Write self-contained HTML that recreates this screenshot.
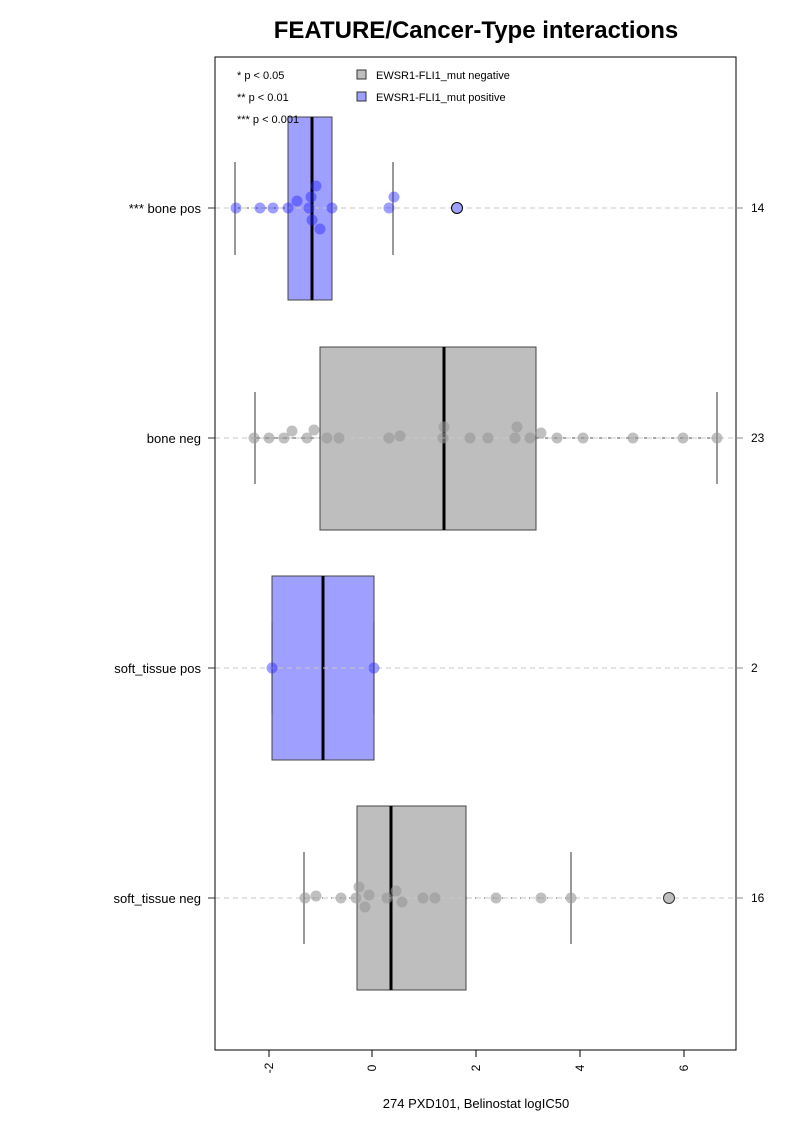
<!DOCTYPE html>
<html><head><meta charset="utf-8"><style>body{margin:0;background:#fff}svg{display:block}text{font-family:"Liberation Sans",sans-serif}</style></head><body>
<svg width="793" height="1122" viewBox="0 0 793 1122" xmlns="http://www.w3.org/2000/svg">
<rect width="793" height="1122" fill="#fff"/>
<text x="476" y="38" font-size="24" font-weight="bold" text-anchor="middle">FEATURE/Cancer-Type interactions</text>
<g stroke="#444" stroke-width="1">
<rect x="288" y="117" width="44" height="183" fill="#9f9fff"/>
<rect x="320" y="347" width="216" height="183" fill="#bebebe"/>
<rect x="272" y="576" width="102" height="184" fill="#9f9fff"/>
<rect x="357" y="806" width="109" height="184" fill="#bebebe"/>
</g>
<g stroke="#000" stroke-width="3">
<line x1="312" y1="117" x2="312" y2="300"/>
<line x1="444" y1="347" x2="444" y2="530"/>
<line x1="323" y1="576" x2="323" y2="760"/>
<line x1="391" y1="806" x2="391" y2="990"/>
</g>
<g stroke="#333" stroke-width="1">
<line x1="235" y1="162" x2="235" y2="255"/><line x1="393" y1="162" x2="393" y2="255"/>
<line x1="255" y1="392" x2="255" y2="484"/><line x1="717" y1="392" x2="717" y2="484"/>
<line x1="272" y1="622" x2="272" y2="714"/><line x1="374" y1="622" x2="374" y2="714"/>
<line x1="304" y1="852" x2="304" y2="944"/><line x1="571" y1="852" x2="571" y2="944"/>
</g>
<g stroke="#555" stroke-dasharray="5,4" stroke-width="1">
<line x1="235" y1="208" x2="288" y2="208"/><line x1="332" y1="208" x2="393" y2="208"/>
<line x1="255" y1="438" x2="320" y2="438"/><line x1="536" y1="438" x2="717" y2="438"/>
<line x1="304" y1="898" x2="357" y2="898"/><line x1="466" y1="898" x2="571" y2="898"/>
</g>
<g stroke="#c8c8c8" stroke-dasharray="5,4" stroke-width="1">
<line x1="215" y1="208" x2="736" y2="208"/>
<line x1="215" y1="438" x2="736" y2="438"/>
<line x1="215" y1="668" x2="736" y2="668"/>
<line x1="215" y1="898" x2="736" y2="898"/>
</g>
<g fill="rgba(40,40,255,0.45)">
<circle cx="236" cy="208" r="5.5"/><circle cx="260" cy="208" r="5.5"/><circle cx="273" cy="208" r="5.5"/><circle cx="288" cy="208" r="5.5"/><circle cx="297" cy="201" r="5.5"/><circle cx="309" cy="208" r="5.5"/><circle cx="311" cy="197" r="5.5"/><circle cx="316" cy="186" r="5.5"/><circle cx="312" cy="220" r="5.5"/><circle cx="320" cy="229" r="5.5"/><circle cx="332" cy="208" r="5.5"/><circle cx="389" cy="208" r="5.5"/><circle cx="394" cy="197" r="5.5"/>
<circle cx="272" cy="668" r="5.5"/><circle cx="374" cy="668" r="5.5"/>
</g>
<g fill="rgba(150,150,150,0.6)">
<circle cx="254" cy="438" r="5.5"/><circle cx="269" cy="438" r="5.5"/><circle cx="284" cy="438" r="5.5"/><circle cx="292" cy="431" r="5.5"/><circle cx="307" cy="438" r="5.5"/><circle cx="314" cy="430" r="5.5"/><circle cx="327" cy="438" r="5.5"/><circle cx="339" cy="438" r="5.5"/><circle cx="389" cy="438" r="5.5"/><circle cx="400" cy="436" r="5.5"/><circle cx="443" cy="438" r="5.5"/><circle cx="444" cy="427" r="5.5"/><circle cx="470" cy="438" r="5.5"/><circle cx="488" cy="438" r="5.5"/><circle cx="515" cy="438" r="5.5"/><circle cx="517" cy="427" r="5.5"/><circle cx="530" cy="438" r="5.5"/><circle cx="541" cy="433" r="5.5"/><circle cx="557" cy="438" r="5.5"/><circle cx="583" cy="438" r="5.5"/><circle cx="633" cy="438" r="5.5"/><circle cx="683" cy="438" r="5.5"/><circle cx="717" cy="438" r="5.5"/>
<circle cx="305" cy="898" r="5.5"/><circle cx="316" cy="896" r="5.5"/><circle cx="341" cy="898" r="5.5"/><circle cx="356" cy="898" r="5.5"/><circle cx="359" cy="887" r="5.5"/><circle cx="369" cy="895" r="5.5"/><circle cx="365" cy="907" r="5.5"/><circle cx="387" cy="898" r="5.5"/><circle cx="396" cy="891" r="5.5"/><circle cx="402" cy="902" r="5.5"/><circle cx="423" cy="898" r="5.5"/><circle cx="435" cy="898" r="5.5"/><circle cx="496" cy="898" r="5.5"/><circle cx="541" cy="898" r="5.5"/><circle cx="571" cy="898" r="5.5"/>
</g>
<circle cx="457" cy="208" r="5.5" fill="#9f9fff" stroke="#000"/>
<circle cx="669" cy="898" r="5.5" fill="#bebebe" stroke="#333"/>
<rect x="215" y="57" width="521" height="993" fill="none" stroke="#000" stroke-width="1"/>
<g stroke="#333"><line x1="208" y1="208" x2="215" y2="208"/><line x1="208" y1="438" x2="215" y2="438"/><line x1="208" y1="668" x2="215" y2="668"/><line x1="208" y1="898" x2="215" y2="898"/></g>
<g stroke="#888"><line x1="736" y1="208" x2="743" y2="208"/><line x1="736" y1="438" x2="743" y2="438"/><line x1="736" y1="668" x2="743" y2="668"/><line x1="736" y1="898" x2="743" y2="898"/></g>
<g font-size="13" text-anchor="end">
<text x="201" y="213">*** bone pos</text><text x="201" y="443">bone neg</text><text x="201" y="673">soft_tissue pos</text><text x="201" y="903">soft_tissue neg</text>
</g>
<g font-size="12"><text x="751" y="212">14</text><text x="751" y="442">23</text><text x="751" y="672">2</text><text x="751" y="902">16</text></g>
<g stroke="#000"><line x1="269" y1="1050" x2="269" y2="1057"/><line x1="372" y1="1050" x2="372" y2="1057"/><line x1="476" y1="1050" x2="476" y2="1057"/><line x1="580" y1="1050" x2="580" y2="1057"/><line x1="684" y1="1050" x2="684" y2="1057"/></g>
<g font-size="12" text-anchor="middle">
<text transform="translate(273,1068) rotate(-90)">-2</text><text transform="translate(376,1068) rotate(-90)">0</text><text transform="translate(480,1068) rotate(-90)">2</text><text transform="translate(584,1068) rotate(-90)">4</text><text transform="translate(688,1068) rotate(-90)">6</text>
</g>
<text x="476" y="1108" font-size="13" text-anchor="middle">274 PXD101, Belinostat logIC50</text>
<g font-size="11">
<text x="237" y="79">* p &lt; 0.05</text><text x="237" y="101">** p &lt; 0.01</text><text x="237" y="123">*** p &lt; 0.001</text>
<rect x="357" y="70" width="9" height="9" fill="#bebebe" stroke="#333"/><text x="376" y="79">EWSR1-FLI1_mut negative</text>
<rect x="357" y="92" width="9" height="9" fill="#9f9fff" stroke="#333"/><text x="376" y="101">EWSR1-FLI1_mut positive</text>
</g>
</svg>
</body></html>
